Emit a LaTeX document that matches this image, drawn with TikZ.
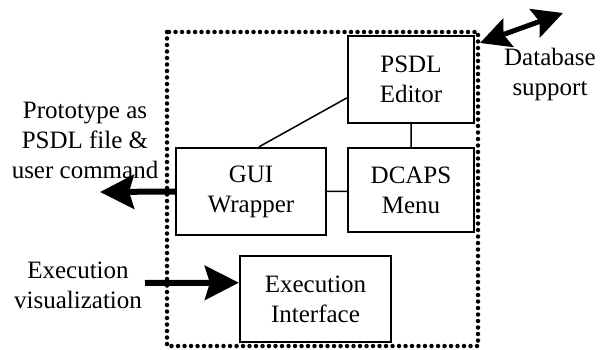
\documentclass[tikz,border=0pt]{standalone}
\usepackage{fontspec}
\setmainfont{Liberation Serif}
\usetikzlibrary{arrows.meta, positioning}

\begin{document}
\begin{tikzpicture}[
        yscale=-1,
        x=1pt,
        y=1pt,
        font=\fontsize{25}{30}\selectfont,
        box/.style={draw, line width=2.2pt, align=center, inner sep=0pt},
        flow/.style={line width=6pt, -{Stealth[length=34pt, width=34pt, inset=5pt]}},
        note/.style={align=center, inner sep=0pt}
    ]
    \useasboundingbox (0,0) rectangle (600,350);

    % outer frame
    \draw[line width=4.5pt, line cap=round, dash pattern=on 0pt off 6.5pt]
        (167,32) rectangle (478,346);

    \node[box, minimum width=126pt, minimum height=87pt] (psdl) at (411,79.5) {PSDL\\Editor};
    \node[box, minimum width=150pt, minimum height=87pt] (gui) at (251,191.5) {GUI\\Wrapper};
    \node[box, minimum width=126pt, minimum height=84pt] (dcaps) at (411,190) {DCAPS\\Menu};
    \node[box, minimum width=151pt, minimum height=86pt] (exec) at (315.5,299) {Execution\\Interface};

    \node[note] (proto) at (85,140) {Prototype as\\PSDL file \&\\user command};
    \node[note] (vis) at (78,285) {Execution\\visualization};
    \node[note] (db) at (550,74) {Database\\support};

    \coordinate (out) at (100,192);
    \coordinate (visin) at (145,283);
    \coordinate (dbL) at (480,43);
    \coordinate (dbR) at (563,13);

    \draw[line width=1.5pt] (gui.80) -- (psdl.196)
        (psdl.south) -- (psdl.south |- dcaps.north)
        (gui.east) -- (gui.east -| dcaps.west);

    \draw[flow] (gui.west) -- (out);
    \draw[flow] (visin) -- (exec.168);
    \draw[flow, {Stealth[length=30pt, width=30pt, inset=5pt]}-{Stealth[length=30pt, width=30pt, inset=5pt]}, line width=5pt] (dbL) -- (dbR);
\end{tikzpicture}
\end{document}
